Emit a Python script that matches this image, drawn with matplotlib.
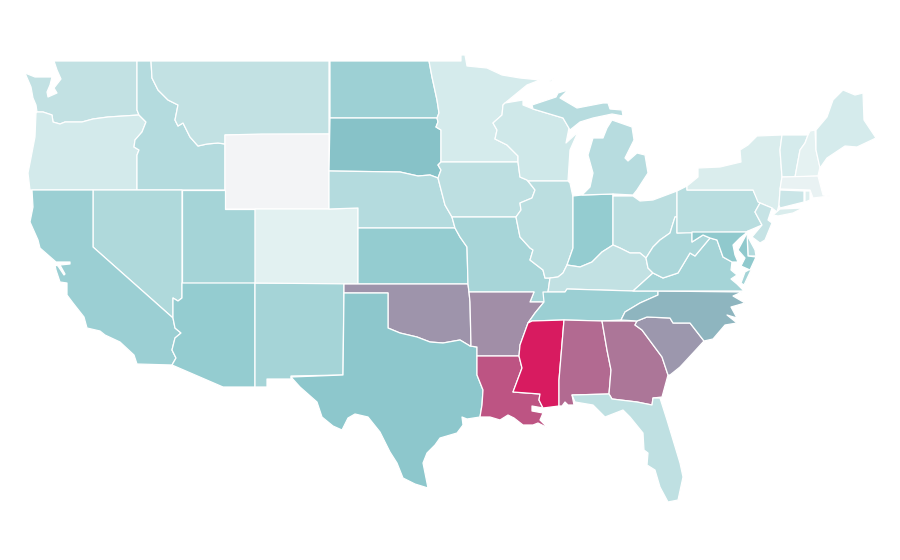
import matplotlib
matplotlib.use("Agg")
import matplotlib.pyplot as plt
from matplotlib.collections import PolyCollection
from matplotlib.colors import LinearSegmentedColormap, Normalize

# Estimated value per state, read from the fill colours
STATE_VALUES = {
    "WA": 23, "OR": 15, "CA": 41, "NV": 31.5, "ID": 29, "MT": 23, "WY": 0, "UT": 36,
    "CO": 8, "AZ": 44, "NM": 36, "ND": 40, "SD": 50, "NE": 29, "KS": 44, "OK": 64,
    "TX": 47, "MN": 14, "IA": 25, "MO": 35, "AR": 66, "LA": 83, "WI": 17, "IL": 26,
    "IN": 44, "MI": 28, "OH": 26, "KY": 23, "TN": 41, "MS": 100, "AL": 76.5, "GA": 73,
    "FL": 24, "SC": 63, "NC": 54, "VA": 36, "WV": 33, "PA": 27, "NY": 12, "VT": 14,
    "NH": 7, "ME": 14, "MA": 5, "CT": 19, "RI": 10, "NJ": 21, "DE": 30, "MD": 46,
}

# State outlines, in map units of the drawing
STATE_SHAPES = {
    "WA": [[(54,61),(137,61),(137,110),(139,115),(108,117),(93,119),(82,122),(65,122),(60,124),(53,122),(52,115),(43,112),(37,112),(36,105),(33,98),(31,87),(25,73),(35,77),(47,77),(52,77),(50,85),(47,92),(48,97),(57,93),(54,88),(61,79),(57,70)]],
    "OR": [[(30,190),(137,190),(137,155),(139,150),(134,147),(135,140),(142,132),(146,122),(139,115),(108,117),(93,119),(82,122),(65,122),(60,124),(53,122),(52,115),(43,112),(37,112),(36,113),(35,137),(30,163),(28,173)]],
    "ID": [[(137,61),(151,61),(152,78),(158,90),(168,100),(178,105),(175,120),(178,126),(183,123),(190,137),(198,146),(207,144),(218,143),(225,144),(225,190),(137,190),(137,155),(139,150),(134,147),(135,140),(142,132),(146,122),(139,115),(137,110)]],
    "MT": [[(151,61),(329,61),(329,134),(225,135),(225,144),(218,143),(207,144),(198,146),(190,137),(183,123),(178,126),(175,120),(178,105),(168,100),(158,90),(152,78)]],
    "WY": [[(225,135),(262,134),(329,134),(329,209),(255,209),(225,209)]],
    "UT": [[(182,190),(225,190),(225,209),(255,209),(255,283),(182,283)]],
    "NV": [[(93,190),(182,190),(182,298),(178,301),(173,298),(173,315),(173,318),(93,247)]],
    "CA": [[(32,190),(93,190),(93,247),(173,318),(175,328),(181,333),(175,338),(172,350),(176,358),(172,365),(137,364),(134,355),(120,342),(105,335),(100,331),(87,328),(84,317),(73,303),(67,295),(67,283),(60,282),(56,270),(55,265),(58,266),(64,275),(65,274),(60,265),(70,264),(70,262),(56,262),(40,248),(38,240),(30,222),(33,207)]],
    "AZ": [[(182,283),(255,283),(255,387),(223,387),(172,365),(176,358),(172,350),(175,338),(181,333),(175,328),(173,318),(173,298),(178,301),(182,298)]],
    "NM": [[(255,283),(344,283),(343,375),(291,376),(291,379),(267,379),(267,387),(255,387)]],
    "CO": [[(255,209),(329,209),(358,208),(358,284),(255,283)]],
    "ND": [[(330,61),(429,61),(432,77),(437,100),(439,113),(437,118),(330,118)]],
    "SD": [[(330,118),(437,118),(438,122),(436,127),(441,130),(441,162),(438,165),(441,170),(438,178),(430,175),(418,176),(400,172),(329,171)]],
    "NE": [[(329,171),(400,172),(418,176),(430,175),(438,178),(445,205),(452,217),(455,228),(358,228),(358,208),(329,209)]],
    "KS": [[(358,228),(455,228),(460,237),(467,247),(468,284),(358,284)]],
    "OK": [[(344,284),(468,284),(469,292),(470,302),(471,345),(470,346),(460,340),(443,343),(430,342),(417,337),(400,333),(388,328),(388,293),(344,293)]],
    "TX": [[(344,293),(388,293),(388,328),(400,333),(417,337),(430,342),(443,343),(460,340),(470,346),(477,347),(477,375),(483,390),(482,405),(480,417),(467,419),(462,417),(463,425),(457,433),(440,438),(435,445),(427,453),(423,463),(428,488),(415,484),(403,478),(397,463),(390,452),(380,432),(368,417),(355,414),(348,418),(342,430),(333,426),(322,417),(317,402),(300,387),(291,377),(343,375)]],
    "MN": [[(429,61),(461,61),(461,55),(465,55),(467,66),(487,68),(502,75),(520,78),(540,80),(527,85),(505,103),(503,105),(502,115),(493,123),(497,130),(495,139),(507,145),(518,156),(518,162),(441,162),(441,130),(436,127),(438,122),(437,118),(439,113),(437,100),(432,77)]],
    "IA": [[(441,162),(518,162),(520,177),(527,180),(535,190),(532,198),(520,203),(521,210),(516,217),(452,217),(445,205),(438,178),(441,170),(438,165)]],
    "MO": [[(452,217),(516,217),(520,237),(530,248),(533,250),(530,260),(543,270),(545,278),(550,278),(548,292),(544,302),(530,302),(534,292),(469,292),(468,284),(467,247),(460,237),(455,228)]],
    "AR": [[(469,292),(534,292),(530,302),(544,302),(535,313),(528,323),(520,345),(519,356),(477,356),(477,347),(470,346),(471,345),(470,302)]],
    "LA": [[(477,356),(519,356),(522,368),(513,392),(540,394),(539,400),(543,408),(532,406),(532,411),(543,413),(540,420),(548,428),(538,423),(533,425),(523,425),(514,418),(508,415),(500,420),(490,417),(480,417),(482,405),(483,390),(477,375)]],
    "WI": [[(505,103),(523,100),(523,105),(533,109),(563,118),(569,128),(566,143),(578,132),(570,150),(568,181),(528,181),(527,180),(520,177),(518,162),(518,156),(507,145),(495,139),(497,130),(493,123),(502,115),(503,105)]],
    "IL": [[(528,181),(568,181),(570,183),(573,197),(573,248),(567,265),(563,273),(558,277),(550,278),(545,278),(543,270),(530,260),(533,250),(530,248),(520,237),(516,217),(521,210),(520,203),(532,198),(535,190)]],
    "IN": [[(573,196),(582,195),(613,194),(613,245),(602,252),(592,262),(580,267),(567,265),(573,248)]],
    "MI": [[(582,195),(613,194),(633,195),(637,190),(648,173),(645,155),(637,153),(628,161),(625,158),(634,140),(632,127),(612,120),(607,128),(603,138),(593,138),(588,155),(593,173),(590,187)],
           [(532,105),(556,97),(558,93),(568,90),(560,98),(577,108),(603,103),(608,103),(610,109),(622,110),(623,116),(612,114),(593,118),(580,122),(570,130),(563,118),(533,109)],
           [(549,81),(555,78),(551,82)]],
    "OH": [[(614,196),(633,196),(640,201),(653,200),(677,191),(677,217),(675,217),(670,233),(660,240),(653,247),(646,258),(640,253),(630,253),(620,248),(613,245),(613,194)]],
    "KY": [[(548,292),(550,278),(558,277),(563,273),(567,265),(580,267),(592,262),(602,252),(613,245),(620,248),(630,253),(640,253),(646,258),(648,268),(653,273),(633,291),(567,289),(565,292)]],
    "TN": [[(543,292),(565,292),(567,289),(633,291),(658,291),(658,295),(640,303),(625,312),(621,320),(602,321),(564,320),(532,321),(528,323),(535,313),(544,302)]],
    "MS": [[(532,321),(564,320),(559,380),(559,406),(543,408),(539,400),(540,394),(513,392),(522,368),(519,356),(520,345),(528,323)]],
    "AL": [[(564,320),(602,321),(607,350),(611,370),(609,394),(572,395),(574,405),(568,405),(565,402),(562,406),(559,406),(559,380)]],
    "GA": [[(602,321),(637,321),(635,325),(642,330),(662,357),(668,375),(662,397),(653,398),(652,405),(637,402),(612,399),(609,394),(611,370),(607,350)]],
    "FL": [[(572,395),(609,394),(612,399),(637,402),(652,405),(653,398),(660,398),(667,420),(680,463),(683,477),(678,500),(668,502),(660,487),(655,470),(647,465),(648,453),(644,450),(643,433),(630,417),(623,410),(605,417),(593,405),(575,402)]],
    "SC": [[(637,321),(647,317),(670,318),(673,323),(690,323),(704,341),(693,353),(680,367),(670,375),(668,375),(662,357),(642,330),(635,325)]],
    "NC": [[(658,291),(742,292),(733,296),(745,303),(731,307),(737,318),(727,315),(737,323),(725,325),(713,339),(704,341),(690,323),(673,323),(670,318),(647,317),(637,321),(621,320),(625,312),(640,303),(658,295)]],
    "VA": [[(633,291),(653,273),(663,278),(678,273),(690,253),(695,256),(710,238),(717,240),(723,257),(732,262),(731,270),(737,275),(731,279),(737,284),(743,290),(743,291)],
           [(752,268),(744,285),(741,283),(745,272)]],
    "WV": [[(677,217),(677,233),(692,232),(692,242),(703,235),(710,238),(695,256),(690,253),(678,273),(663,278),(653,273),(648,268),(646,258),(653,247),(660,240),(670,233),(675,217)]],
    "PA": [[(677,191),(687,186),(687,190),(753,190),(758,200),(760,203),(755,212),(762,225),(748,231),(747,232),(677,233)]],
    "NY": [[(687,190),(753,190),(758,202),(772,208),(777,212),(779,205),(780,190),(782,177),(780,150),(782,135),(757,136),(748,145),(740,150),(741,162),(720,167),(698,168),(698,177),(687,186)],
           [(773,215),(780,209),(803,208),(793,213),(778,216)]],
    "VT": [[(782,135),(808,135),(805,143),(800,150),(795,177),(782,177),(780,150)]],
    "NH": [[(810,131),(815,130),(816,150),(820,167),(818,176),(795,177),(800,150),(805,143),(808,135)]],
    "ME": [[(816,130),(827,117),(833,100),(843,90),(855,95),(863,93),(864,120),(876,138),(857,147),(845,146),(827,158),(820,168),(816,150)]],
    "MA": [[(782,177),(818,176),(823,195),(830,196),(813,198),(810,190),(780,189)]],
    "CT": [[(780,190),(804,191),(804,202),(780,208),(779,205)]],
    "RI": [[(805,191),(810,191),(810,200),(805,202)]],
    "NJ": [[(760,203),(772,208),(768,220),(772,223),(765,240),(760,243),(752,237),(762,225),(755,212)]],
    "DE": [[(748,231),(748,237),(755,250),(756,256),(748,256),(747,232)]],
    "MD": [[(692,232),(747,232),(745,234),(740,238),(733,245),(735,255),(738,262),(732,262),(723,257),(717,240),(710,238),(703,235),(692,242)],
           [(747,232),(748,256),(756,257),(750,270),(741,266),(745,258),(738,250),(745,237)]],
}

SCALE_POSITIONS = [0, 0.08, 0.23, 0.44, 0.5, 1]
SCALE_COLORS = ["#f3f4f6", "#e2f1f1", "#c1e1e3", "#94ccd0", "#87c3c8", "#d81b60"]

polys, vals = [], []
for name, rings in STATE_SHAPES.items():
    for ring in rings:
        polys.append(ring)
        vals.append(STATE_VALUES[name])

fig = plt.figure(figsize=(9, 5.6), dpi=100, facecolor="white")
ax = fig.add_axes([0, 0, 1, 1])
cmap = LinearSegmentedColormap.from_list("scale", list(zip(SCALE_POSITIONS, SCALE_COLORS)))
coll = PolyCollection(polys, array=vals, cmap=cmap, norm=Normalize(0, 100),
                      edgecolors="white", linewidths=0.9)
ax.add_collection(coll)
ax.set_xlim(0, 900)
ax.set_ylim(560, 0)
ax.axis("off")
fig.savefig("out.png", dpi=100, facecolor="white")
